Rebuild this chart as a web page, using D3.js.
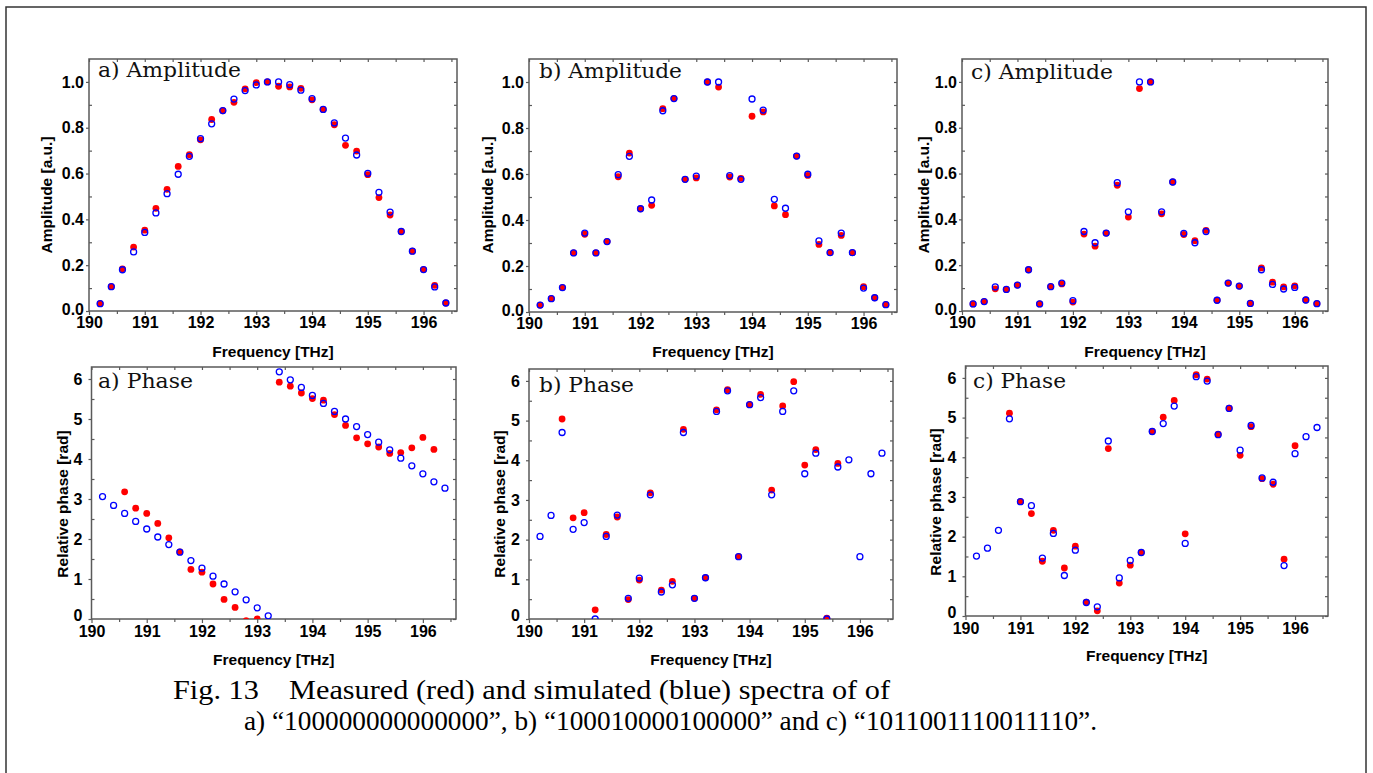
<!DOCTYPE html>
<html>
<head>
<meta charset="utf-8">
<script src="https://cdn.jsdelivr.net/npm/d3@7"></script>
<style>
  html, body { margin: 0; padding: 0; background: #fff; }
  svg { display: block; }
</style>
</head>
<body>
<svg id="chart" width="1373" height="773"></svg>
<script>
// ---------------- DATA ----------------
const freqs = [190.2,190.4,190.6,190.8,191.0,191.2,191.4,191.6,191.8,192.0,192.2,192.4,192.6,192.8,193.0,193.2,
               193.4,193.6,193.8,194.0,194.2,194.4,194.6,194.8,195.0,195.2,195.4,195.6,195.8,196.0,196.2,196.4];

const xTickLabels = [190,191,192,193,194,195,196];
const ampTickLabels = [0.0,0.2,0.4,0.6,0.8,1.0];
const phaseTickLabels = [0,1,2,3,4,5,6];

// a) amplitude
const ampA_meas = [0.032,0.106,0.184,0.279,0.353,0.448,0.531,0.631,0.682,0.747,0.836,0.874,0.911,0.970,0.997,1.000,
                   0.981,0.978,0.972,0.922,0.880,0.813,0.723,0.698,0.595,0.495,0.419,0.347,0.261,0.181,0.112,0.035];
const ampA_sim  = [0.032,0.106,0.180,0.258,0.343,0.428,0.512,0.597,0.675,0.752,0.817,0.875,0.925,0.962,0.987,1.000,
                   1.000,0.988,0.964,0.927,0.880,0.821,0.755,0.681,0.601,0.518,0.432,0.347,0.261,0.181,0.105,0.035];
// b) amplitude
const ampB_meas = [0.030,0.058,0.106,0.257,0.338,0.257,0.306,0.588,0.691,0.449,0.464,0.884,0.928,0.577,0.583,1.000,
                   0.978,0.587,0.581,0.851,0.870,0.461,0.423,0.678,0.594,0.294,0.258,0.333,0.258,0.110,0.062,0.032];
const ampB_sim  = [0.030,0.058,0.106,0.257,0.343,0.257,0.306,0.597,0.677,0.449,0.487,0.875,0.928,0.577,0.591,1.000,
                   1.000,0.593,0.577,0.926,0.878,0.490,0.451,0.678,0.599,0.309,0.258,0.343,0.258,0.104,0.062,0.032];
// c) amplitude
const ampC_meas = [0.031,0.041,0.097,0.094,0.113,0.180,0.031,0.106,0.118,0.039,0.336,0.283,0.340,0.549,0.410,0.971,
                   1.000,0.424,0.563,0.334,0.307,0.352,0.047,0.122,0.109,0.033,0.188,0.126,0.105,0.110,0.048,0.032];
const ampC_sim  = [0.031,0.041,0.105,0.094,0.113,0.180,0.031,0.106,0.122,0.045,0.347,0.298,0.340,0.560,0.433,1.000,
                   1.000,0.433,0.563,0.339,0.298,0.347,0.047,0.122,0.109,0.033,0.180,0.116,0.096,0.103,0.048,0.032];

// a) phase
const phaseA_meas = [null,null,3.18,2.77,2.64,2.39,2.03,1.68,1.24,1.17,0.875,0.49,0.29,-0.04,0.00,null,
                     5.92,5.82,5.65,5.51,5.47,5.11,4.84,4.53,4.38,4.30,4.14,4.16,4.28,4.54,4.24,null];
const phaseA_sim  = [3.06,2.84,2.64,2.44,2.25,2.05,1.86,1.67,1.46,1.27,1.07,0.875,0.68,0.48,0.28,0.08,
                     6.18,5.98,5.79,5.59,5.39,5.19,5.00,4.81,4.61,4.42,4.23,4.02,3.83,3.63,3.43,3.27];
// b) phase
const phaseB_meas = [null,null,5.04,2.55,2.68,0.23,2.13,2.57,0.49,0.98,3.18,0.73,0.95,4.78,0.52,1.04,
                     5.27,5.78,1.57,5.40,5.66,3.25,5.37,5.98,3.88,4.27,0.02,3.92,null,null,null,null];
const phaseB_sim  = [2.08,2.61,4.70,2.26,2.43,0.00,2.08,2.62,0.52,1.03,3.13,0.68,0.86,4.70,0.52,1.04,
                     5.23,5.75,1.57,5.40,5.58,3.13,5.23,5.75,3.66,4.18,0.00,3.83,4.01,1.57,3.66,4.18];
// c) phase
const phaseC_meas = [null,null,null,5.11,2.88,2.58,1.38,2.16,1.21,1.76,0.35,0.13,4.22,0.83,1.28,1.60,
                     4.65,5.01,5.43,2.07,6.08,5.97,4.58,5.24,4.05,4.77,3.46,3.32,1.43,4.29,null,null];
const phaseC_sim  = [1.51,1.71,2.16,4.97,2.88,2.78,1.46,2.08,1.02,1.66,0.34,0.23,4.41,0.96,1.40,1.60,
                     4.65,4.85,5.29,1.83,6.03,5.92,4.57,5.23,4.18,4.80,3.48,3.37,1.27,4.09,4.52,4.75];

const captionLine1 = "Fig. 13\u2003Measured (red) and simulated (blue) spectra of of";
const captionLine2 = "a) \u201C100000000000000\u201D, b) \u201C100010000100000\u201D and c) \u201C1011001110011110\u201D.";

// ---------------- LAYOUT ----------------
const panels = [
  {box:[89,59,457,311],    kind:"amp",   label:"a) Amplitude", lx:98,  ly:77,  lw:143, yTitle:"Amplitude [a.u.]",   ytx:46,  yty:195, xty:351, meas:ampA_meas,   sim:ampA_sim},
  {box:[529,59,897,312],   kind:"amp",   label:"b) Amplitude", lx:539, ly:78,  lw:143, yTitle:"Amplitude [a.u.]",   ytx:487, yty:195, xty:351, meas:ampB_meas,   sim:ampB_sim},
  {box:[962,59,1328,311],  kind:"amp",   label:"c) Amplitude", lx:971, ly:79,  lw:142, yTitle:"Amplitude [a.u.]",   ytx:923, yty:195, xty:351, meas:ampC_meas,   sim:ampC_sim},
  {box:[91.5,367,456,619], kind:"phase", label:"a) Phase",     lx:98,  ly:388, lw:95,  yTitle:"Relative phase [rad]", ytx:62,  yty:504, xty:659, meas:phaseA_meas, sim:phaseA_sim},
  {box:[529,369,893,619],  kind:"phase", label:"b) Phase",     lx:539, ly:392, lw:95,  yTitle:"Relative phase [rad]", ytx:499, yty:504, xty:659, meas:phaseB_meas, sim:phaseB_sim},
  {box:[965.5,366,1328,616],kind:"phase",label:"c) Phase",     lx:973, ly:388, lw:93,  yTitle:"Relative phase [rad]", ytx:935, yty:502, xty:655, meas:phaseC_meas, sim:phaseC_sim}
];

const svg = d3.select("#chart");
const frameColor = "#5a5a5a";
const tickFont = "'Liberation Sans', Arial, sans-serif";

// outer border
svg.append("rect").attr("x",6).attr("y",7).attr("width",1360).attr("height",800)
  .attr("fill","none").attr("stroke","#333").attr("stroke-width",1.5);

panels.forEach((p,i) => {
  const [x0,y0,x1,y1] = p.box;
  const x = d3.scaleLinear().domain([190,196.6]).range([x0,x1]);
  const yMax = p.kind === "amp" ? 1.1 : 6.3;
  const y = d3.scaleLinear().domain([0,yMax]).range([y1,y0]);
  const yMajors = p.kind === "amp" ? ampTickLabels : phaseTickLabels;
  const yMinors = p.kind === "amp" ? [0.1,0.3,0.5,0.7,0.9] : [0.5,1.5,2.5,3.5,4.5,5.5];
  const xMinors = [190.5,191.5,192.5,193.5,194.5,195.5,196.5];
  const fmt = p.kind === "amp" ? d3.format(".1f") : d3.format("d");

  const g = svg.append("g");

  const clipId = "clip" + i;
  svg.append("clipPath").attr("id",clipId).append("rect")
    .attr("x",x0).attr("y",y0).attr("width",x1-x0).attr("height",y1-y0);

  // bottom axis
  g.append("g").attr("class","xlab").attr("transform",`translate(0,${y1})`)
    .call(d3.axisBottom(x).tickValues(xTickLabels).tickSize(4).tickPadding(p.kind==="amp"?2:3).tickFormat(d3.format("d")));
  g.append("g").attr("transform",`translate(0,${y1})`)
    .call(d3.axisBottom(x).tickValues(xMinors).tickSize(3).tickFormat(""));
  // top axis (inward)
  g.append("g").attr("transform",`translate(0,${y0})`)
    .call(d3.axisBottom(x).tickValues(xTickLabels.concat(xMinors)).tickSize(3).tickFormat(""));
  // left axis
  const ly = g.append("g").attr("class","ylab").attr("transform",`translate(${x0},0)`)
    .call(d3.axisLeft(y).tickValues(yMajors).tickSize(3).tickPadding(p.kind==="amp"?2:6).tickFormat(fmt));
  g.append("g").attr("transform",`translate(${x0},0)`)
    .call(d3.axisRight(y).tickValues(yMinors).tickSize(3).tickFormat(""));
  // right axis (inward)
  g.append("g").attr("transform",`translate(${x1},0)`)
    .call(d3.axisLeft(y).tickValues(yMajors.concat(yMinors)).tickSize(3).tickFormat(""));

  g.selectAll(".domain").remove();
  g.selectAll(".tick line").attr("stroke",frameColor).attr("stroke-width",1.2);
  g.selectAll(".tick text").attr("font-family",tickFont).attr("font-weight","bold")
    .attr("font-size","16px").attr("fill","#000");
  // lift the bottom-most y label slightly so it clears the first x label
  ly.selectAll(".tick text").filter(d => d === 0).attr("dy", p.kind==="amp" ? "0.2em" : "0.12em");

  // frame
  g.append("rect").attr("x",x0).attr("y",y0).attr("width",x1-x0).attr("height",y1-y0)
    .attr("fill","none").attr("stroke",frameColor).attr("stroke-width",1.5);

  // points
  const pts = g.append("g").attr("clip-path",`url(#${clipId})`);
  const measData = freqs.map((f,k)=>({f, v:p.meas[k]})).filter(d=>d.v!==null);
  const simData  = freqs.map((f,k)=>({f, v:p.sim[k]})).filter(d=>d.v!==null);
  pts.selectAll("circle.meas").data(measData).enter().append("circle")
    .attr("class","meas").attr("cx",d=>x(d.f)).attr("cy",d=>y(d.v)).attr("r",3.4)
    .attr("fill","#ff0000");
  pts.selectAll("circle.sim").data(simData).enter().append("circle")
    .attr("class","sim").attr("cx",d=>x(d.f)).attr("cy",d=>y(d.v)).attr("r",3.0)
    .attr("fill","none").attr("stroke","#0000ff").attr("stroke-width",1.3);

  // panel label
  g.append("text").attr("x",p.lx).attr("y",p.ly).text(p.label)
    .attr("font-family","'DejaVu Serif', 'Liberation Serif', serif").attr("font-size","21px")
    .attr("textLength",p.lw).attr("lengthAdjust","spacingAndGlyphs").attr("fill","#111");

  // x title
  g.append("text").attr("x",(x0+x1)/2).attr("y",p.xty).attr("text-anchor","middle")
    .attr("dominant-baseline","central").text("Frequency [THz]")
    .attr("font-family",tickFont).attr("font-weight","bold").attr("font-size","15.5px").attr("fill","#000");

  // y title
  g.append("text").attr("transform",`translate(${p.ytx},${p.yty}) rotate(-90)`)
    .attr("text-anchor","middle").attr("dominant-baseline","central").text(p.yTitle)
    .attr("font-family",tickFont).attr("font-weight","bold").attr("font-size","15.5px").attr("fill","#000");
});

// caption
svg.append("text").attr("x",173).attr("y",699).text(captionLine1)
  .attr("font-family","'Liberation Serif', serif").attr("font-size","27px")
  .attr("textLength",717).attr("lengthAdjust","spacingAndGlyphs").attr("fill","#000");
svg.append("text").attr("x",244).attr("y",730).text(captionLine2)
  .attr("font-family","'Liberation Serif', serif").attr("font-size","27px")
  .attr("textLength",853).attr("lengthAdjust","spacingAndGlyphs").attr("fill","#000");
</script>
</body>
</html>
